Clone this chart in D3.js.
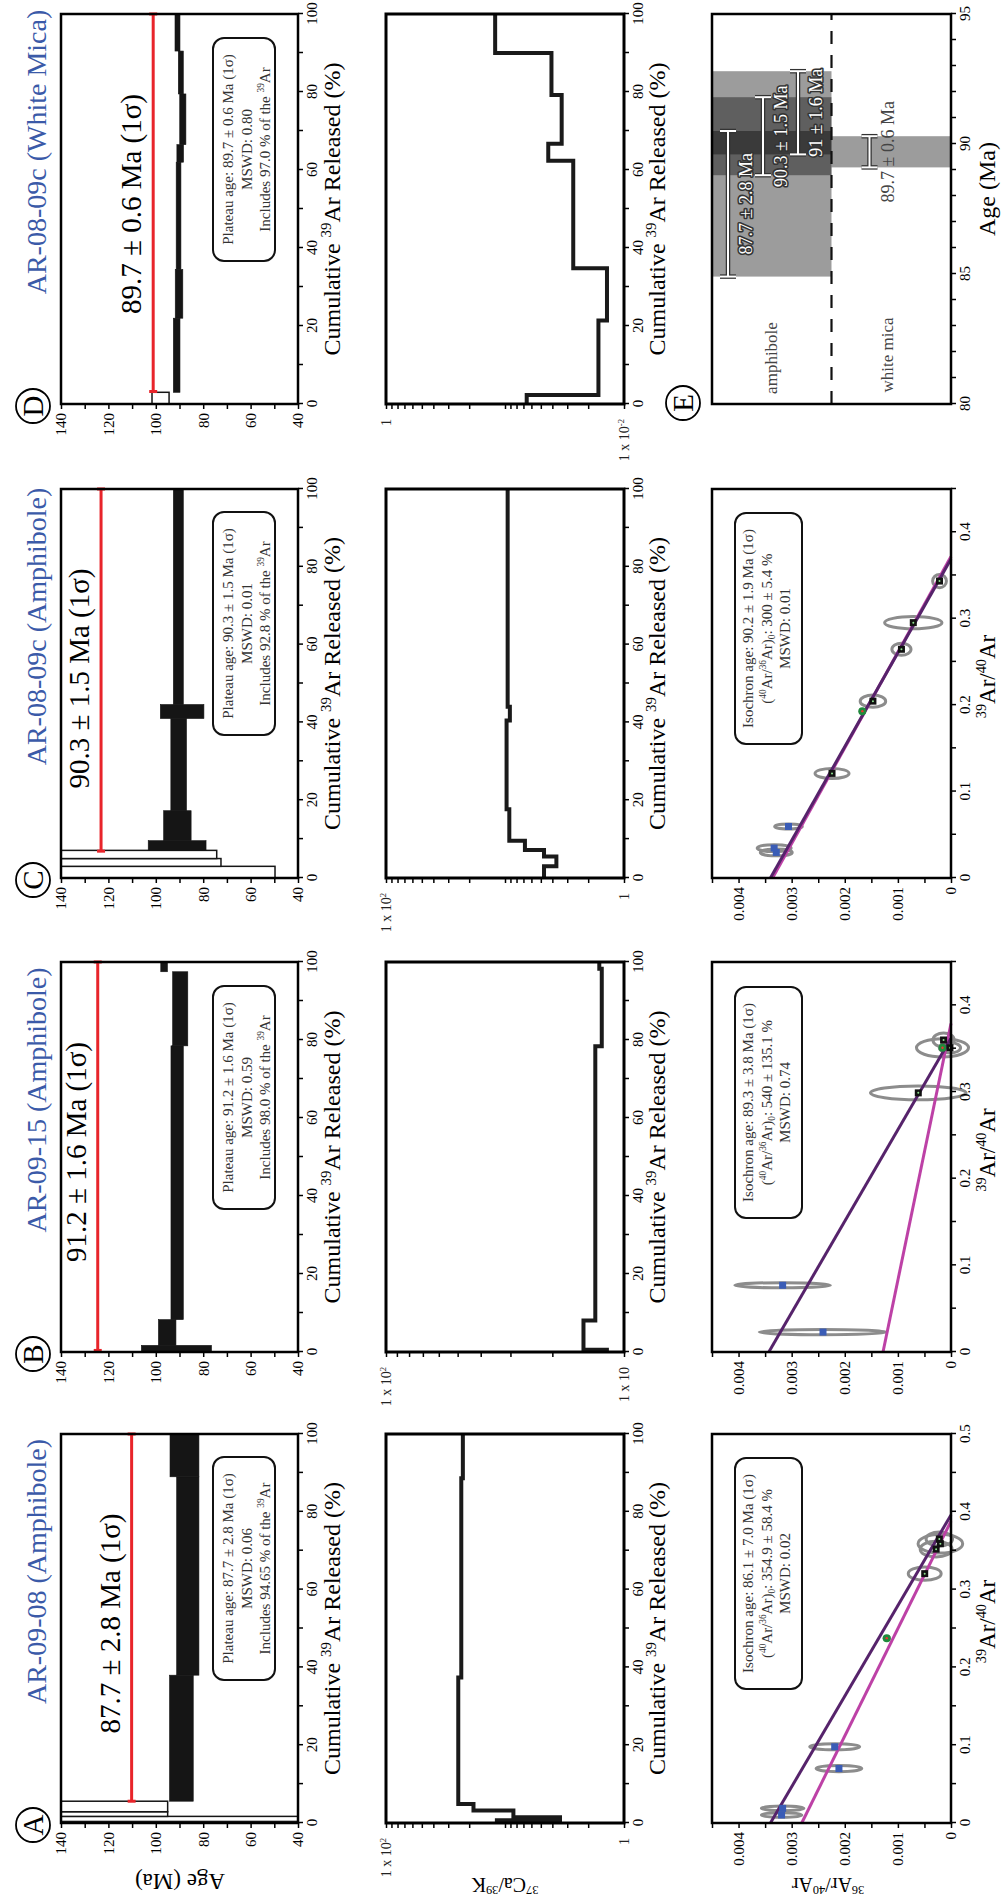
<!DOCTYPE html>
<html lang="en">
<head>
<meta charset="utf-8">
<title>40Ar/39Ar results</title>
<script src="https://d3js.org/d3.v7.min.js"></script>
<style>
    body { margin: 0; background: #fff; }
    svg { display: block; }
</style>
</head>
<body>
<script>
    // ---------- data ----------
    const panelLetters = ["A", "B", "C", "D"];
    const sampleTitles = ["AR-09-08 (Amphibole)", "AR-09-15 (Amphibole)", "AR-08-09c (Amphibole)", "AR-08-09c (White Mica)"];
    const plateauAges = ["87.7 ± 2.8", "91.2 ± 1.6", "90.3 ± 1.5", "89.7 ± 0.6"];
    const plateauMswd = ["0.06", "0.59", "0.01", "0.80"];
    const plateauIncl = ["94.65", "98.0", "92.8", "97.0"];

    // age steps: [cum % start, cum % end, age (Ma), 1 sigma, in plateau]
    const ageStepsA = [[0, 0.4, 100, 80, 0], [0.4, 1.7, 100, 80, 0], [1.7, 2.9, 127, 32, 0], [2.9, 5.6, 127, 32, 0],
        [5.6, 38.0, 89.2, 5.0, 1], [38.0, 89.0, 86.5, 4.7, 1], [89.0, 100, 87.9, 6.1, 1]];
    const ageStepsB = [[0, 1.7, 91.3, 14.8, 1], [1.7, 8.3, 95.2, 3.7, 1], [8.3, 78.5, 91.0, 2.6, 1],
        [78.5, 97.5, 89.7, 3.2, 1], [97.5, 100, 96.5, 1.4, 1]];
    const ageStepsC = [[0, 3.0, 100, 50.3, 0], [3.0, 5.0, 111, 38.5, 0], [5.0, 7.1, 112, 37.7, 0],
        [7.1, 9.6, 91.0, 12.2, 1], [9.6, 17.3, 90.9, 5.8, 1], [17.3, 41.0, 90.35, 3.3, 1],
        [41.0, 44.6, 88.9, 9.2, 1], [44.6, 100, 90.5, 2.1, 1]];
    const ageStepsD = [[0, 3.0, 98.0, 3.6, 0], [3.0, 22.0, 91.2, 1.4, 1], [22.0, 34.5, 90.2, 1.6, 1],
        [34.5, 62.0, 90.4, 1.0, 1], [62.0, 66.5, 89.7, 1.4, 1], [66.5, 79.5, 88.6, 1.3, 1],
        [79.5, 90.5, 89.45, 1.05, 1], [90.5, 100, 90.85, 1.05, 1]];
    const ageSteps = [ageStepsA, ageStepsB, ageStepsC, ageStepsD];

    // plateau bar: [start %, end %, drawn at age]
    const plateauBars = [[5.6, 100, 110.2], [0.4, 100, 124.5], [6.9, 100, 123.1], [3.2, 100, 101.1]];

    // 37Ca/39K steps: [start %, end %, value]
    const caStepsA = [[0, 0.7, 11.7], [0.7, 1.5, 3.45], [1.5, 3.2, 8.5], [3.2, 4.9, 18.4], [4.9, 37.4, 24.7], [37.4, 88.6, 23.3], [88.6, 100, 22.6]];
    const caStepsB = [[0, 0.6, 11.8], [0.6, 8.1, 14.8], [8.1, 78.4, 13.2], [78.4, 98.3, 12.4], [98.3, 100, 12.7]];
    const caStepsC = [[0, 3.0, 4.7], [3.0, 5.5, 3.7], [5.5, 7.2, 4.7], [7.2, 9.6, 6.8], [9.6, 17.7, 9.2], [17.7, 40.5, 9.7], [40.5, 44.0, 9.1], [44.0, 100, 9.5]];
    const caStepsD = [[0, 2.3, 0.0657], [2.3, 21.4, 0.0164], [21.4, 34.8, 0.0139], [34.8, 62.4, 0.0267], [62.4, 66.7, 0.0433], [66.7, 79.2, 0.0334], [79.2, 90.0, 0.0407], [90.0, 100, 0.121]];
    const caSteps = [caStepsA, caStepsB, caStepsC, caStepsD];
    const caDomains = [[100, 1], [100, 10], [100, 1], [1, 0.01]];
    const caEndLabels = [
        [[["1 x 10"], ["2", "sup"]], [["1"]]],
        [[["1 x 10"], ["2", "sup"]], [["1 x 10"]]],
        [[["1 x 10"], ["2", "sup"]], [["1"]]],
        [[["1"]], [["1 x 10"], ["-2", "sup"]]]
    ];

    // isochron points: [39Ar/40Ar, 36Ar/40Ar, err x, err y, kind]
    const isoPtsA = [[0.0103, 0.00319, 0.003, 0.00038, "b"], [0.0188, 0.00317, 0.003, 0.0004, "b"],
        [0.070, 0.00211, 0.004, 0.00043, "b"], [0.098, 0.00219, 0.004, 0.00047, "b"],
        [0.2376, 0.00121, 0.002, 0.00005, "g"], [0.3205, 0.000495, 0.0085, 0.00031, "k"],
        [0.352, 0.00028, 0.010, 0.0003, "k"], [0.359, 0.0002, 0.012, 0.00042, "k"], [0.365, 0.00022, 0.009, 0.00025, "k"]];
    const isoPtsB = [[0.023, 0.00241, 0.003, 0.0012, "b"], [0.077, 0.00317, 0.003, 0.0009, "b"],
        [0.299, 0.000616, 0.008, 0.0009, "k"], [0.351, 0.00016, 0.0105, 0.00049, "g"],
        [0.360, 0.00014, 0.008, 0.0002, "k"], [0.351, 0.00002, 0.006, 0.0002, "k"]];
    const isoPtsC = [[0.0296, 0.00329, 0.004, 0.0003, "b"], [0.0346, 0.00333, 0.004, 0.00032, "b"],
        [0.0596, 0.00306, 0.003, 0.00026, "b"], [0.121, 0.00224, 0.0058, 0.00032, "k"],
        [0.193, 0.00167, 0.002, 0.00004, "g"], [0.2046, 0.00147, 0.007, 0.00024, "k"],
        [0.2646, 0.000933, 0.007, 0.00018, "k"], [0.2954, 0.00071, 0.007, 0.00054, "k"],
        [0.3435, 0.000216, 0.0077, 0.00013, "k"]];
    const isoPts = [isoPtsA, isoPtsB, isoPtsC];
    // fit lines: [y intercept, x intercept]; first purple, second magenta
    const isoLines = [[[0.00340, 0.396], [0.00281, 0.388]], [[0.00343, 0.362], [0.00128, 0.379]], [[0.00340, 0.369], [0.00336, 0.372]]];
    const isoXMax = [0.5, 0.45, 0.45];
    const isoAges = ["86.1 ± 7.0", "89.3 ± 3.8", "90.2 ± 1.9"];
    const isoRatios = ["354.9 ± 58.4", "540 ± 135.1", "300 ± 5.4"];
    const isoMswd = ["0.02", "0.74", "0.01"];

    // summary panel E
    const sumLabels = ["87.7 ± 2.8 Ma", "90.3 ± 1.5 Ma", "91 ± 1.6 Ma", "89.7 ± 0.6 Ma"];
    const sumAge = [87.7, 90.3, 91.2, 89.7];
    const sumErr = [2.8, 1.5, 1.6, 0.6];
    const sumMineral = ["amphibole", "amphibole", "amphibole", "white mica"];

    // ---------- layout ----------
    const serif = '"Liberation Serif", "Times New Roman", serif';
    const colX = [[81, 470], [552, 942], [1026, 1415], [1500, 1890]];
    const rowAge = [61, 298], rowCa = [386, 624], rowIso = [712, 951];

    const svg = d3.select("body").append("svg").attr("width", 1002).attr("height", 1904)
            .attr("font-family", serif);
    svg.append("rect").attr("width", 1002).attr("height", 1904).attr("fill", "#fff");
    // the figure is laid out landscape and turned a quarter turn
    const root = svg.append("g").attr("transform", "translate(0,1904) rotate(-90)");

    function rich(text, parts, size) {
        let shift = 0;
        parts.forEach(p => {
            const s = p[0], k = p[1];
            const target = k === "sup" ? -0.38 * size : k === "sub" ? 0.22 * size : 0;
            text.append("tspan").attr("dy", target - shift)
                    .attr("font-size", k ? size * 0.62 : size).text(s);
            shift = target;
        });
        return text;
    }

    function styleAxis(g, size) {
        g.attr("font-family", serif).attr("font-size", size);
        g.select(".domain").remove();
        g.selectAll(".tick line").attr("stroke", "#000").attr("stroke-width", 1.5);
        g.selectAll(".tick text").attr("fill", "#000");
    }

    function frame(g, x0, x1, y0, y1, w) {
        g.append("rect").attr("x", x0).attr("y", y0).attr("width", x1 - x0).attr("height", y1 - y0)
                .attr("fill", "none").attr("stroke", "#000").attr("stroke-width", w || 2.5);
    }

    function letterBadge(cx, cy, letter) {
        root.append("circle").attr("cx", cx).attr("cy", cy).attr("r", 17)
                .attr("fill", "#fff").attr("stroke", "#000").attr("stroke-width", 1.8);
        root.append("text").attr("x", cx).attr("y", cy + 10).attr("text-anchor", "middle")
                .attr("font-size", 29).text(letter);
    }

    function xTitle(g, cx, y, parts, size) {
        rich(g.append("text").attr("x", cx).attr("y", y).attr("text-anchor", "middle"), parts, size);
    }

    const pctTitle = [["Cumulative "], ["39", "sup"], ["Ar Released (%)"]];

    panelLetters.forEach((letter, i) => {
        const [x0, x1] = colX[i];
        const xc = (x0 + x1) / 2;
        const xPct = d3.scaleLinear().domain([0, 100]).range([x0, x1]);
        const pctAxis = d3.axisBottom(xPct).tickValues(d3.range(0, 101, 10)).tickSize(5).tickPadding(3)
                .tickFormat(d => d % 20 === 0 ? d : "");

        // ---------- age spectrum ----------
        const yAge = d3.scaleLinear().domain([40, 140]).range([rowAge[1], rowAge[0]]).clamp(true);
        const g1 = root.append("g");
        g1.selectAll("rect.step")
                .data(ageSteps[i].slice().sort((a, b) => a[4] - b[4]))
                .join("rect").attr("class", "step")
                .attr("x", d => xPct(d[0])).attr("width", d => xPct(d[1]) - xPct(d[0]))
                .attr("y", d => yAge(d[2] + d[3]))
                .attr("height", d => yAge(d[2] - d[3]) - yAge(d[2] + d[3]))
                .attr("fill", d => d[4] ? "#151515" : "#fff")
                .attr("stroke", "#151515").attr("stroke-width", d => d[4] ? 0.6 : 1.5);

        const pb = plateauBars[i];
        const py = yAge(pb[2]);
        g1.append("line").attr("x1", xPct(pb[0])).attr("x2", xPct(pb[1])).attr("y1", py).attr("y2", py)
                .attr("stroke", "#e8242a").attr("stroke-width", 3);
        g1.selectAll("line.cap").data([pb[0], pb[1]]).join("line").attr("class", "cap")
                .attr("x1", d => xPct(d)).attr("x2", d => xPct(d)).attr("y1", py - 4).attr("y2", py + 4)
                .attr("stroke", "#e8242a").attr("stroke-width", 3);
        g1.append("text").attr("x", xc + 5).attr("y", py - 12).attr("text-anchor", "middle")
                .attr("font-size", 29).text(plateauAges[i] + " Ma (1σ)");

        // plateau info box
        const bx = x0 + 143;
        g1.append("rect").attr("x", bx).attr("y", 213).attr("width", 223).attr("height", 62).attr("rx", 11)
                .attr("fill", "#fff").attr("stroke", "#111").attr("stroke-width", 2);
        const bcx = bx + 111.5;
        g1.append("text").attr("x", bcx).attr("y", 233).attr("text-anchor", "middle").attr("font-size", 15)
                .attr("fill", "#333").text("Plateau age: " + plateauAges[i] + " Ma (1σ)");
        g1.append("text").attr("x", bcx).attr("y", 252).attr("text-anchor", "middle").attr("font-size", 15)
                .attr("fill", "#333").text("MSWD: " + plateauMswd[i]);
        rich(g1.append("text").attr("x", bcx).attr("y", 270).attr("text-anchor", "middle").attr("fill", "#333"),
                [["Includes " + plateauIncl[i] + " % of the "], ["39", "sup"], ["Ar"]], 15);

        g1.append("g").attr("transform", `translate(${x0},0)`)
                .call(d3.axisLeft(yAge).tickValues(d3.range(40, 141, 10)).tickSize(5).tickPadding(4)
                        .tickFormat(d => d % 20 === 0 ? d : ""))
                .call(g => styleAxis(g, 15));
        g1.append("g").attr("transform", `translate(0,${rowAge[1]})`).call(pctAxis).call(g => styleAxis(g, 15));
        frame(g1, x0, x1, rowAge[0], rowAge[1]);
        xTitle(g1, xc, rowAge[1] + 42, pctTitle, 24);

        g1.append("text").attr("x", xc + 57).attr("y", 46).attr("text-anchor", "middle")
                .attr("font-size", 28).attr("fill", "#3b5aa8").text(sampleTitles[i]);
        letterBadge(x0 - 2, 33, letter);

        // ---------- 37Ca/39K spectrum ----------
        const yCa = d3.scaleLog().domain(caDomains[i]).range([rowCa[0], rowCa[1]]);
        const g2 = root.append("g");
        const caPts = [];
        caSteps[i].forEach(d => { caPts.push([d[0], d[2]]); caPts.push([d[1], d[2]]); });
        g2.append("path").datum(caPts)
                .attr("d", d3.line().x(d => xPct(d[0])).y(d => yCa(d[1])))
                .attr("fill", "none").attr("stroke", "#1a1a1a").attr("stroke-width", 4)
                .attr("stroke-linejoin", "miter");
        g2.append("g").attr("transform", `translate(${x0},0)`)
                .call(d3.axisLeft(yCa).tickValues(yCa.ticks()).tickSize(5).tickFormat(""))
                .call(g => styleAxis(g, 14));
        g2.append("g").attr("transform", `translate(0,${rowCa[1]})`).call(pctAxis).call(g => styleAxis(g, 15));
        caEndLabels[i].forEach((parts, k) => {
            rich(g2.append("text").attr("x", x0 - 15).attr("y", yCa(caDomains[i][k]) + 5)
                    .attr("text-anchor", "end").attr("fill", "#222"), parts, 14);
        });
        frame(g2, x0, x1, rowCa[0], rowCa[1], 3);
        xTitle(g2, xc, rowCa[1] + 41, pctTitle, 24);

        if (i < 3) {
            // ---------- inverse isochron ----------
            const xI = d3.scaleLinear().domain([0, isoXMax[i]]).range([x0, x1]);
            const yI = d3.scaleLinear().domain([0, 0.0045]).range([rowIso[1], rowIso[0]]);
            const g3 = root.append("g");
            g3.selectAll("ellipse").data(isoPts[i]).join("ellipse")
                    .attr("cx", d => xI(d[0])).attr("cy", d => yI(d[1]))
                    .attr("rx", d => xI(d[2]) - xI(0)).attr("ry", d => yI(0) - yI(d[3]))
                    .attr("fill", "none").attr("stroke", "#8c8c8c").attr("stroke-width", 3);
            const lineCols = ["#56236b", "#bd41a6"];
            isoLines[i].slice().reverse().forEach((l, k) => {
                g3.append("line").attr("x1", xI(0)).attr("y1", yI(l[0])).attr("x2", xI(l[1])).attr("y2", yI(0))
                        .attr("stroke", lineCols[1 - k]).attr("stroke-width", 3);
            });
            const pts = g3.selectAll("g.pt").data(isoPts[i]).join("g").attr("class", "pt")
                    .attr("transform", d => `translate(${xI(d[0])},${yI(d[1])})`);
            pts.filter(d => d[4] === "b").append("rect").attr("x", -3.5).attr("y", -3.5)
                    .attr("width", 7).attr("height", 7).attr("fill", "#3a5cb6");
            pts.filter(d => d[4] === "k").append("rect").attr("x", -3.5).attr("y", -3.5)
                    .attr("width", 7).attr("height", 7).attr("fill", "#111");
            pts.filter(d => d[4] === "k").append("circle").attr("r", 1).attr("fill", "#8fe08f");
            pts.filter(d => d[4] === "g").append("circle").attr("r", 4).attr("fill", "#1f8a3c");
            pts.filter(d => d[4] === "g").append("circle").attr("r", 1.2).attr("fill", "#e33");

            const ib = x0 + 134;
            g3.append("rect").attr("x", ib).attr("y", 735).attr("width", 231).attr("height", 67).attr("rx", 11)
                    .attr("fill", "#fff").attr("stroke", "#111").attr("stroke-width", 2);
            const icx = ib + 115.5;
            g3.append("text").attr("x", icx).attr("y", 753).attr("text-anchor", "middle").attr("font-size", 15)
                    .attr("fill", "#333").text("Isochron age: " + isoAges[i] + " Ma (1σ)");
            rich(g3.append("text").attr("x", icx).attr("y", 772).attr("text-anchor", "middle").attr("fill", "#333"),
                    [["("], ["40", "sup"], ["Ar/"], ["36", "sup"], ["Ar)"], ["0", "sub"], [": " + isoRatios[i] + " %"]], 15);
            g3.append("text").attr("x", icx).attr("y", 790).attr("text-anchor", "middle").attr("font-size", 15)
                    .attr("fill", "#333").text("MSWD: " + isoMswd[i]);

            const yTicks = d3.range(0, 10).map(k => k * 0.0005);
            g3.append("g").attr("transform", `translate(${x0},0)`)
                    .call(d3.axisLeft(yI).tickValues(yTicks).tickSize(5).tickPadding(4)
                            .tickFormat((d, k) => k % 2 ? "" : (k === 0 ? "0" : d3.format(".3f")(d))))
                    .call(g => styleAxis(g, 15));
            const xTicks = d3.range(0, 11).map(k => k * 0.05).filter(v => v <= isoXMax[i] + 1e-9);
            g3.append("g").attr("transform", `translate(0,${rowIso[1]})`)
                    .call(d3.axisBottom(xI).tickValues(xTicks).tickSize(5).tickPadding(3)
                            .tickFormat((d, k) => k % 2 ? "" : (k === 0 ? "0" : d3.format(".1f")(d))))
                    .call(g => styleAxis(g, 15));
            frame(g3, x0, x1, rowIso[0], rowIso[1]);
            xTitle(g3, xc + 7, rowIso[1] + 44, [["39", "sup"], ["Ar/"], ["40", "sup"], ["Ar"]], 23);
        } else {
            // ---------- summary of plateau ages ----------
            const xE = d3.scaleLinear().domain([80, 95]).range([x0, x1]);
            const mid = (rowIso[0] + rowIso[1]) / 2;
            const g4 = root.append("g");
            const rowY = sumMineral.map((m, k) => m === "amphibole" ? rowIso[0] + 16 + k * 35 : mid + 38);
            g4.selectAll("rect.band").data(sumAge).join("rect").attr("class", "band")
                    .attr("x", (d, k) => xE(d - sumErr[k])).attr("width", (d, k) => xE(d + sumErr[k]) - xE(d - sumErr[k]))
                    .attr("y", (d, k) => sumMineral[k] === "amphibole" ? rowIso[0] : mid)
                    .attr("height", mid - rowIso[0])
                    .attr("fill", "#000").attr("fill-opacity", 0.39);
            g4.append("line").attr("x1", x0).attr("x2", x1).attr("y1", mid).attr("y2", mid)
                    .attr("stroke", "#111").attr("stroke-width", 2.2).attr("stroke-dasharray", "13,11");

            ["#333", "#fff"].forEach((c, pass) => {
                const w = pass ? 2 : 4.5;
                sumAge.forEach((a, k) => {
                    const y = rowY[k], lo = xE(a - sumErr[k]), hi = xE(a + sumErr[k]);
                    g4.append("line").attr("x1", lo).attr("x2", hi).attr("y1", y).attr("y2", y)
                            .attr("stroke", c).attr("stroke-width", w);
                    [lo, hi].forEach(xx => g4.append("line").attr("x1", xx).attr("x2", xx)
                            .attr("y1", y - 8).attr("y2", y + 8).attr("stroke", c).attr("stroke-width", w));
                });
            });
            sumLabels.forEach((s, k) => {
                const t = g4.append("text").attr("x", xE(sumAge[k])).attr("y", rowY[k] + 24)
                        .attr("text-anchor", "middle").attr("font-size", 18).text(s);
                if (sumMineral[k] === "amphibole") {
                    t.attr("fill", "#fff").attr("stroke", "#333").attr("stroke-width", 3.2)
                            .attr("paint-order", "stroke").attr("stroke-linejoin", "round");
                } else {
                    t.attr("fill", "#444");
                }
            });
            g4.append("text").attr("x", x0 + 46).attr("y", 777).attr("text-anchor", "middle")
                    .attr("font-size", 17).attr("fill", "#444").text("amphibole");
            g4.append("text").attr("x", x0 + 49).attr("y", 893).attr("text-anchor", "middle")
                    .attr("font-size", 17).attr("fill", "#444").text("white mica");

            g4.append("g").attr("transform", `translate(0,${rowIso[1]})`)
                    .call(d3.axisBottom(xE).tickValues(d3.range(80, 96, 1)).tickSize(5).tickPadding(3)
                            .tickFormat(d => d % 5 === 0 ? d : ""))
                    .call(g => styleAxis(g, 15));
            frame(g4, x0, x1, rowIso[0], rowIso[1]);
            g4.append("text").attr("x", xc + 20).attr("y", rowIso[1] + 44).attr("text-anchor", "middle")
                    .attr("font-size", 24).text("Age (Ma)");
            letterBadge(x0 + 1, 683, "E");
        }
    });

    // y-axis titles (left column only)
    function yTitle(y, parts, size, baseX) {
        rich(root.append("text").attr("transform", `translate(${baseX},${y}) rotate(-90)`)
                .attr("text-anchor", "middle"), parts, size);
    }
    yTitle(180, [["Age (Ma)"]], 23, 30);
    yTitle(505, [["37", "sup"], ["Ca/"], ["39", "sup"], ["K"]], 20, 26);
    yTitle(828, [["36", "sup"], ["Ar/"], ["40", "sup"], ["Ar"]], 20, 26);
</script>
</body>
</html>
